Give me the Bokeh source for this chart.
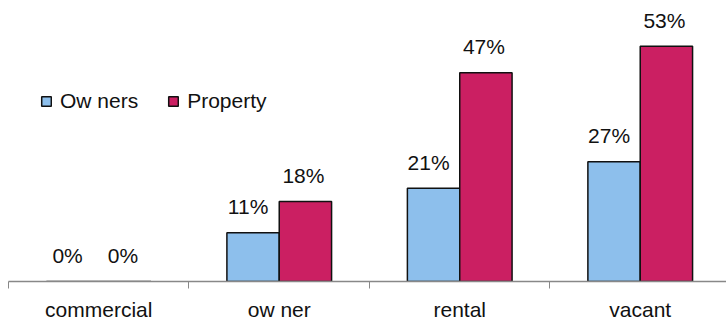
import numpy as np
from bokeh.plotting import figure
from bokeh.models import ColumnDataSource, Range1d, FixedTicker, Legend, LegendItem
from bokeh.core.properties import value
from bokeh.embed import file_html
from bokeh.resources import INLINE

categories = ["commercial", "ow ner", "rental", "vacant"]
owners = [0, 11, 21, 27]
prop = [0, 18, 47, 53]
series_names = ["Ow ners", "Property"]

FONT = "Liberation Sans"
BLUE = "#8DBFEC"
RED = "#CB1F62"
BAR_W = 0.29
Y_MAX = 63.3
X_MAX = 3.978

idx = np.arange(len(categories)) + 0.5
src_o = ColumnDataSource(dict(x=idx - BAR_W / 2, top=owners,
                              lab=[f"{v}%" for v in owners]))
src_p = ColumnDataSource(dict(x=idx + BAR_W / 2, top=prop,
                              lab=[f"{v}%" for v in prop]))

p = figure(width=726, height=323, output_backend="svg", toolbar_location=None,
           x_range=Range1d(0, X_MAX), y_range=Range1d(0, Y_MAX),
           min_border_left=8, min_border_right=0, min_border_top=0,
           min_border_bottom=40)
p.outline_line_color = None
p.background_fill_color = "white"
p.border_fill_color = "white"
p.xgrid.visible = False
p.ygrid.visible = False
p.yaxis.visible = False

r1 = p.vbar(x="x", top="top", width=BAR_W, source=src_o, fill_color=BLUE,
            line_color="#111111", line_width=1.5)
r2 = p.vbar(x="x", top="top", width=BAR_W, source=src_p, fill_color=RED,
            line_color="#111111", line_width=1.5)

for src, dx in ((src_o, -5), (src_p, -2)):
    p.text(x="x", y="top", text="lab", source=src, text_font=value(FONT),
           text_font_size="21px", text_color="#111111", text_align="center",
           text_baseline="alphabetic", x_offset=dx, y_offset=-26)

ax = p.xaxis[0]
ax.ticker = FixedTicker(ticks=list(idx), minor_ticks=list(range(len(categories) + 1)))
ax.major_label_overrides = {float(t): c for t, c in zip(idx, categories)}
ax.major_tick_line_color = None
ax.major_tick_out = 0
ax.minor_tick_out = 7
ax.minor_tick_in = 0
ax.minor_tick_line_color = "#888888"
ax.axis_line_color = "#888888"
ax.axis_line_width = 1.5
ax.major_label_standoff = 9
ax.major_label_text_font = FONT
ax.major_label_text_font_size = "21px"
ax.major_label_text_color = "#111111"

legend = Legend(items=[LegendItem(label=series_names[0], renderers=[r1]),
                       LegendItem(label=series_names[1], renderers=[r2])],
                orientation="horizontal", location=(32, 168),
                glyph_width=12, glyph_height=12, label_standoff=8, spacing=29,
                padding=0, margin=0, border_line_color=None,
                background_fill_alpha=0, label_text_font=FONT,
                label_text_font_size="21px", label_text_color="#111111")
p.add_layout(legend, "center")

open("out.html", "w").write(file_html(p, INLINE))
